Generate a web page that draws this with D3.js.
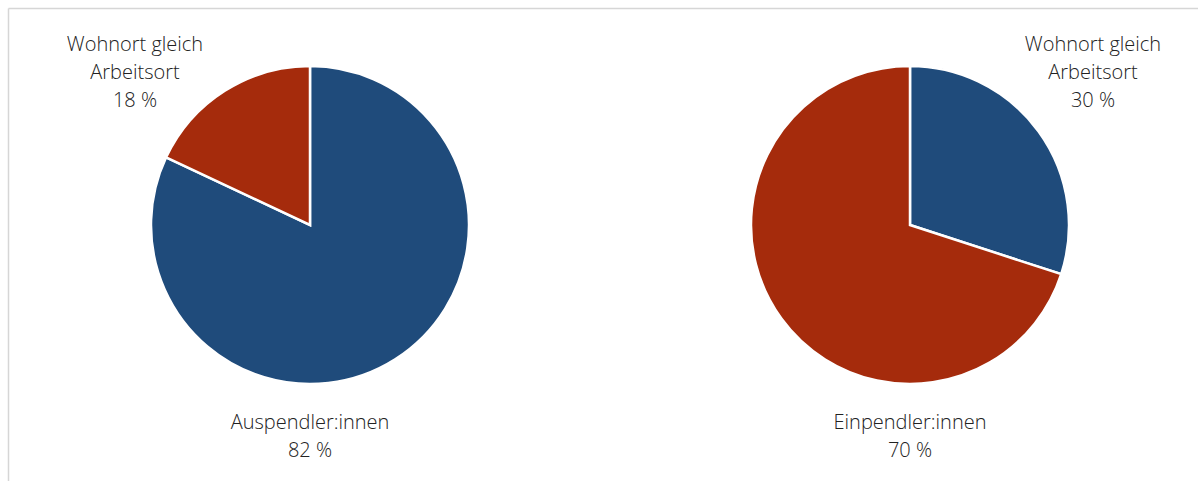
<!DOCTYPE html>
<html>
<head>
<meta charset="utf-8">
<script src="https://cdn.jsdelivr.net/npm/d3@7"></script>
<style>
  html, body { margin: 0; padding: 0; background: #fff; }
  svg { display: block; }
</style>
</head>
<body>
<svg id="chart" width="1198" height="481"></svg>
<script>
// Data
const leftCategories = ["Auspendler:innen", "Wohnort gleich Arbeitsort"];
const leftValues = [82, 18];
const rightCategories = ["Wohnort gleich Arbeitsort", "Einpendler:innen"];
const rightValues = [30, 70];
const sliceColors = ["#1f4b7b", "#a52b0c"];

const leftLabels = [
  { lines: ["Auspendler:innen", "82 %"], pos: "bottom" },
  { lines: ["Wohnort gleich", "Arbeitsort", "18 %"], pos: "topleft" }
];
const rightLabels = [
  { lines: ["Wohnort gleich", "Arbeitsort", "30 %"], pos: "topright" },
  { lines: ["Einpendler:innen", "70 %"], pos: "bottom" }
];

const svg = d3.select("#chart");

// frame lines (top and left)
svg.append("line").attr("x1", 8.5).attr("x2", 1198).attr("y1", 8.5).attr("y2", 8.5)
  .attr("stroke", "#d6d6d6").attr("stroke-width", 1.5);
svg.append("line").attr("x1", 8.5).attr("x2", 8.5).attr("y1", 8.5).attr("y2", 481)
  .attr("stroke", "#d6d6d6").attr("stroke-width", 1.5);

const radius = 159;
const pie = d3.pie().sort(null).value(d => d);
const arc = d3.arc().innerRadius(0).outerRadius(radius);

function drawPie(cx, cy, values, categories, labels) {
  const g = svg.append("g").attr("transform", `translate(${cx},${cy})`);
  g.selectAll("path")
    .data(pie(values))
    .join("path")
    .attr("d", arc)
    .attr("fill", (d, i) => sliceColors[i])
    .attr("stroke", "#ffffff")
    .attr("stroke-width", 2.5)
    .attr("stroke-linejoin", "miter");

  labels.forEach(lab => {
    let lx, ly;
    if (lab.pos === "bottom") { lx = 0; ly = radius + 38; }
    else if (lab.pos === "topleft") { lx = -175; ly = -181; }
    else { lx = 183; ly = -181; }
    const t = g.append("text")
      .attr("text-anchor", "middle")
      .attr("font-family", "'Open Sans', sans-serif")
      .attr("font-weight", 300)
      .attr("font-size", 20)
      .attr("fill", "#222222");
    lab.lines.forEach((line, k) => {
      t.append("tspan").attr("x", lx).attr("y", ly + k * 28)
        .attr("dy", "0.35em").text(line);
    });
  });
}

drawPie(310, 225, leftValues, leftCategories, leftLabels);
drawPie(910, 225, rightValues, rightCategories, rightLabels);
</script>
</body>
</html>
